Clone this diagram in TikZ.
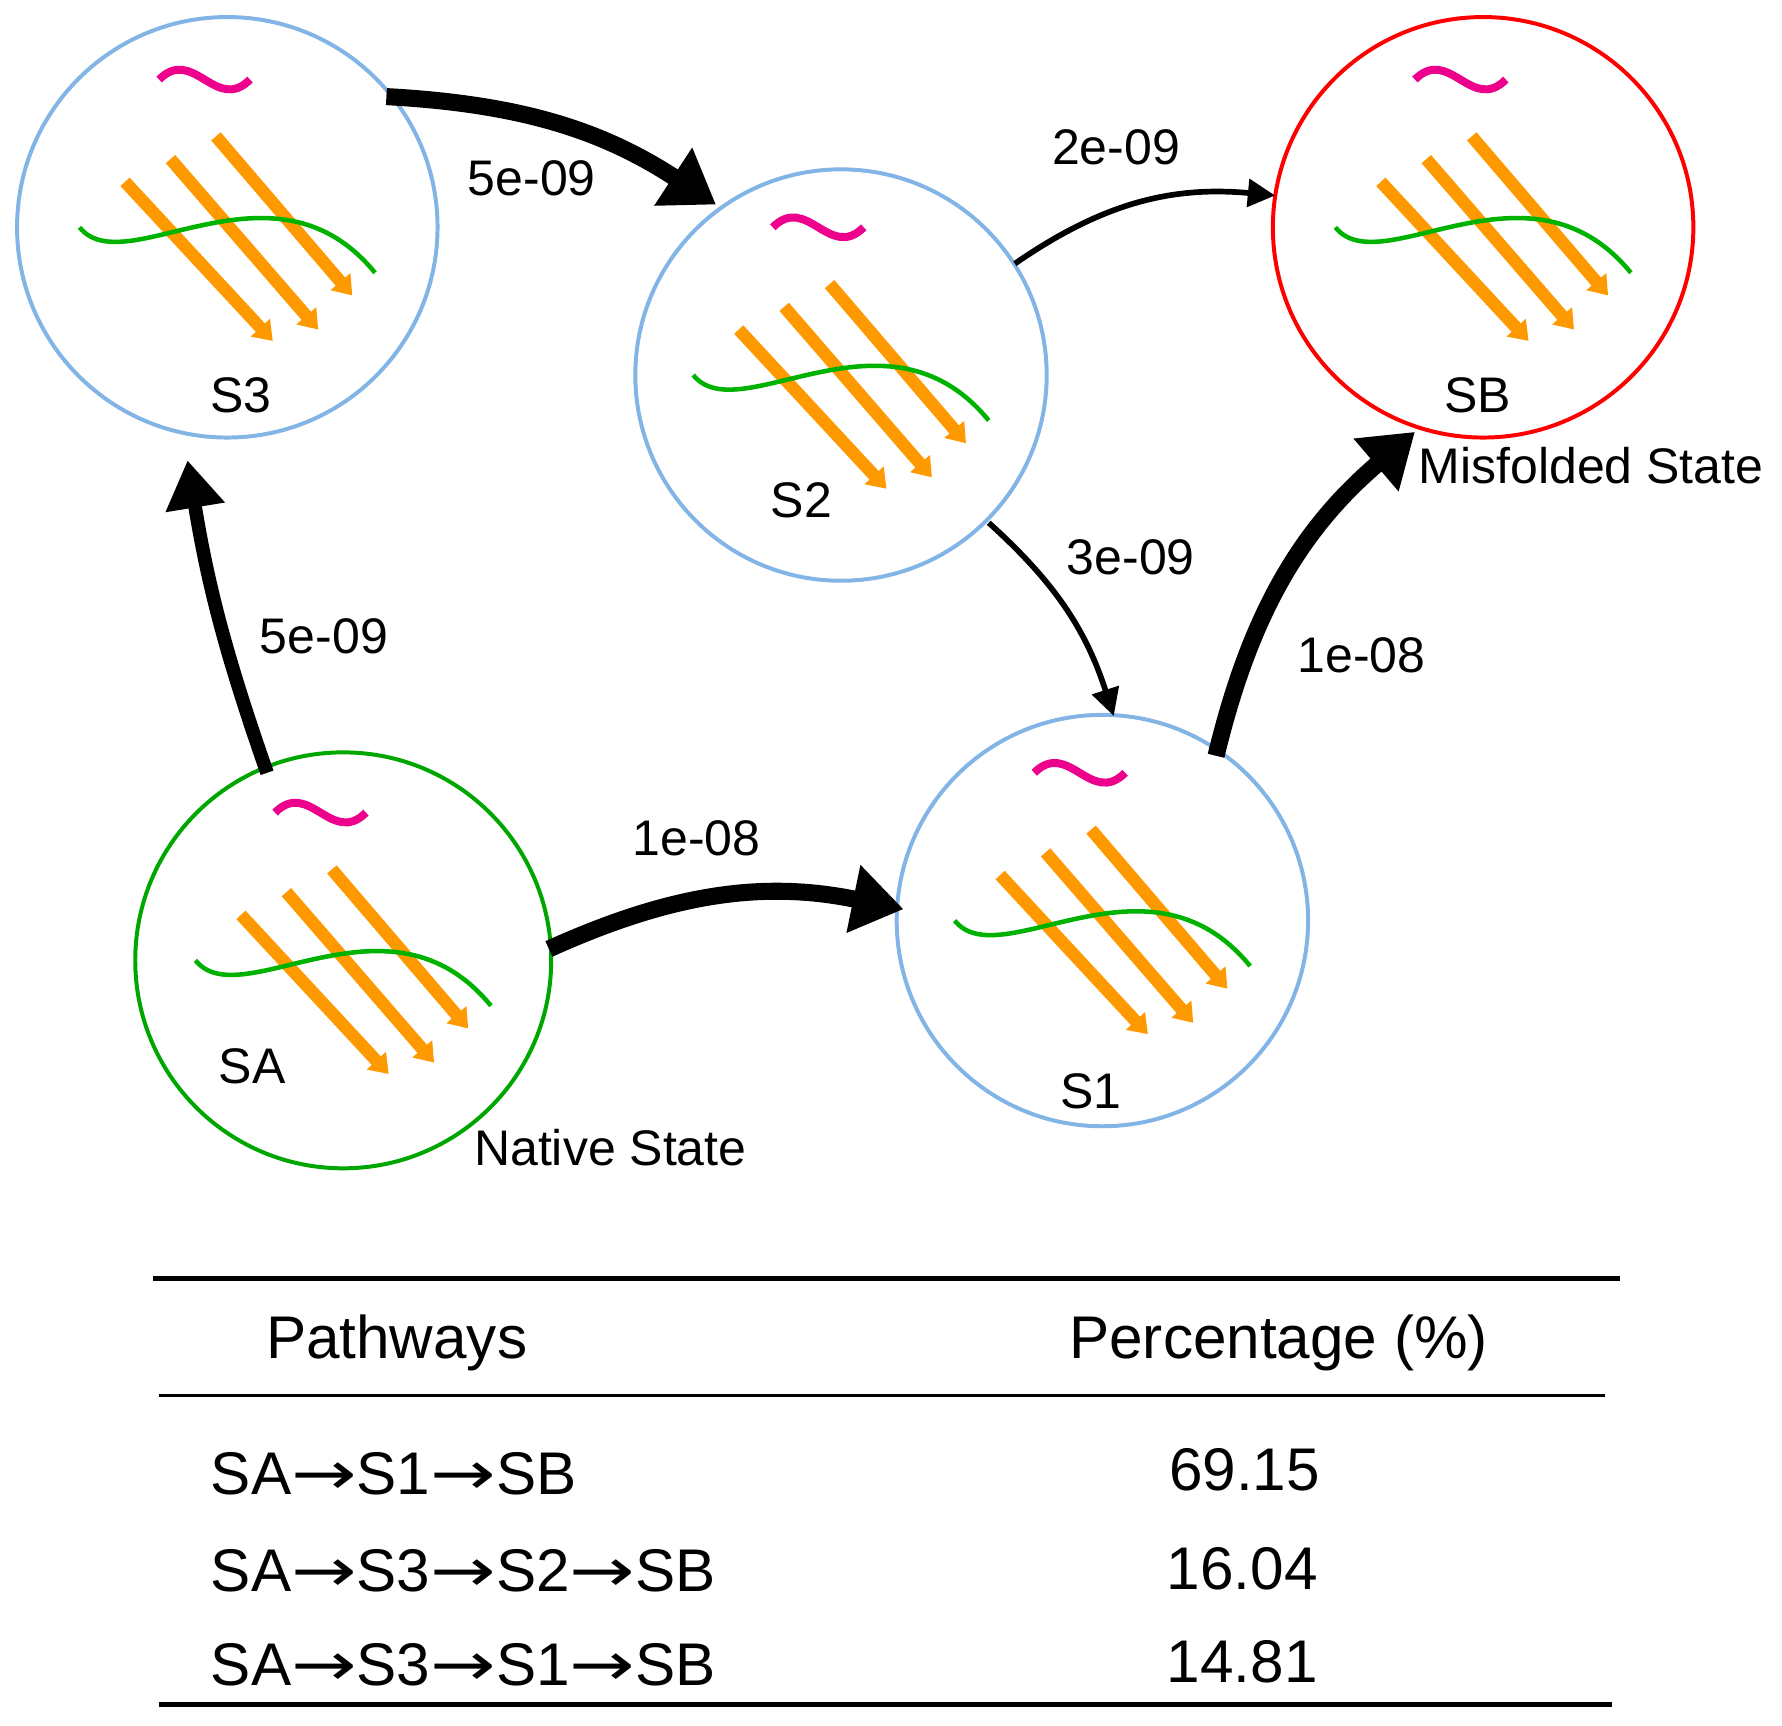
\documentclass[tikz,border=0pt]{standalone}
\usepackage{fontspec}
\setmainfont{Liberation Sans}
\newfontfamily\dv{DejaVu Sans}
\newcommand{\ar}{\scalebox{1.3}[1]{\dv →}}
\usetikzlibrary{arrows.meta}
\begin{document}
\begin{tikzpicture}[x=1pt,y=-1pt,
  st/.style={circle,draw,line width=3.5pt,minimum size=#1},
  lab/.style={font=\fontsize{44}{48}\selectfont},
  tb/.style={font=\fontsize{53}{58}\selectfont},
  big/.style={line width=15pt,-{Triangle[length=45pt,width=58pt]}},
  thin/.style={line width=5pt,-{Triangle[length=24pt,width=24pt]}},
  strand/.style={line width=11pt,orange!80!yellow,-{Triangle[length=16pt,width=22pt]}}]
\useasboundingbox (0,0) rectangle (1568,1518);
\definecolor{cb}{RGB}{130,180,230}
\node[st=370pt,draw=cb] (S3) at (200,200) {};
\node[st=362pt,draw=cb] (S2) at (740,330) {};
\node[st=370pt,draw=red] (SB) at (1305,200) {};
\node[st=366pt,draw=green!65!black] (SA) at (302,845) {};
\node[st=362pt,draw=cb] (S1) at (970,810) {};
% simplified strands
\foreach \cx/\cy in {200/200,740/330,1305/200,302/845,970/810}{
  \draw[strand] (\cx-90,\cy-40) -- (\cx+40,\cy+100);
  \draw[strand] (\cx-50,\cy-60) -- (\cx+80,\cy+90);
  \draw[strand] (\cx-10,\cy-80) -- (\cx+110,\cy+60);
  \draw[line width=7pt,magenta] (\cx-60,\cy-130) .. controls (\cx-30,\cy-160) and (\cx-10,\cy-100) .. (\cx+20,\cy-130);
  \draw[line width=4pt,green!70!black] (\cx-130,\cy) .. controls (\cx-90,\cy+50) and (\cx+40,\cy-70) .. (\cx+130,\cy+40);
}
\node[lab] at (212,348) {S3};
\node[lab] at (705,440) {S2};
\node[lab] at (1300,348) {SB};
\node[lab] at (222,938) {SA};
\node[lab] at (960,960) {S1};
\node[lab] (mis) at (1400,410) {Misfolded State};
\node[lab] (nat) at (537,1010) {Native State};
\coordinate (a1) at (340,85); \coordinate (a2) at (630,180);
\coordinate (b1) at (893,232); \coordinate (b2) at (1122,172);
\coordinate (c1) at (870,460); \coordinate (c2) at (980,630);
\coordinate (d1) at (1070,665); \coordinate (d2) at (1245,380);
\coordinate (e1) at (235,680); \coordinate (e2) at (165,405);
\coordinate (f1) at (483,835); \coordinate (f2) at (795,800);
\draw[big] (a1) to[bend left=15] (a2);
\draw[thin] (b1) to[bend left=20] (b2);
\draw[thin] (c1) to[bend left=15] (c2);
\draw[big] (d1) to[bend left=18] (d2);
\draw[line width=12pt,-{Triangle[length=42pt,width=50pt]}] (e1) to[bend left=5] (e2);
\draw[big] (f1) to[bend left=18] (f2);
\node[lab] at (468,157) {5e-09};
\node[lab] at (982,130) {2e-09};
\node[lab] at (995,490) {3e-09};
\node[lab] at (1198,577) {1e-08};
\node[lab] at (285,560) {5e-09};
\node[lab] at (613,738) {1e-08};
% table
\draw[line width=4pt] (135,1125) -- (1425,1125);
\draw[line width=3pt] (140,1228) -- (1412,1228);
\draw[line width=4pt] (140,1500) -- (1418,1500);
\node[tb] at (349,1182) {Pathways};
\node[tb] at (1125,1182) {Percentage (\%)};
\node[tb,anchor=west] at (182,1297) {SA\ar S1\ar SB};
\node[tb,anchor=west] at (182,1382) {SA\ar S3\ar S2\ar SB};
\node[tb,anchor=west] at (182,1465) {SA\ar S3\ar S1\ar SB};
\node[tb] at (1095,1293) {69.15};
\node[tb] at (1093,1380) {16.04};
\node[tb] at (1093,1462) {14.81};
\end{tikzpicture}
\end{document}
